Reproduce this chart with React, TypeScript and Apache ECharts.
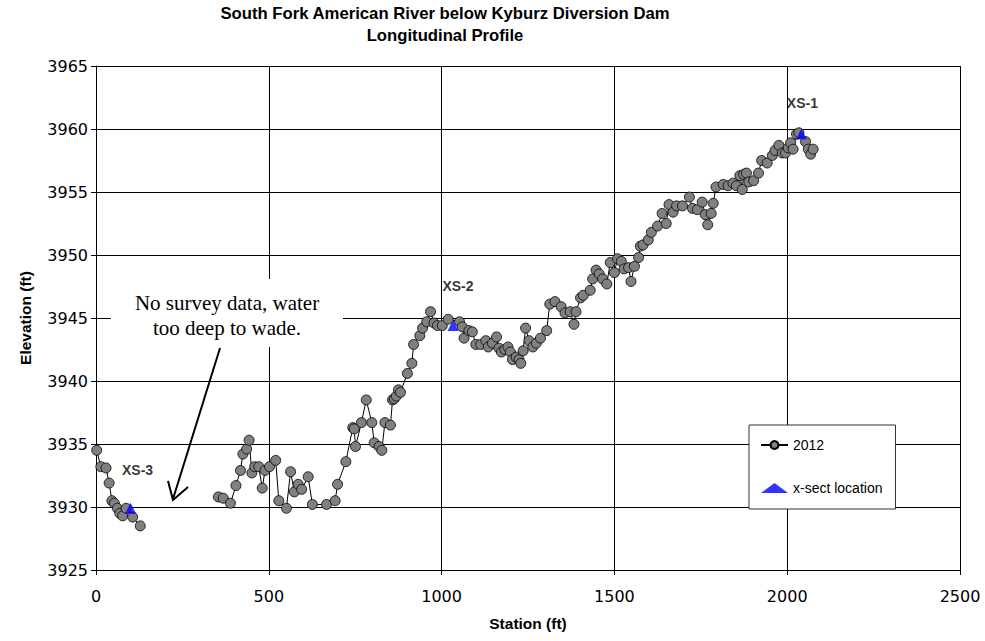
import React, { useEffect, useRef } from "react";
import * as echarts from "echarts";

// Thalweg survey, 2012: station along the channel (ft) and bed elevation (ft)
const stationFt = [
  2, 14, 29, 38, 46, 53, 62, 69, 77, 87, 106, 128,
  354, 368, 389, 405, 418, 425, 436, 443, 451, 459, 471, 481, 489, 502, 520, 529,
  551, 563, 574, 585, 595, 614, 626, 667, 692, 699, 723, 743, 747, 751, 768, 782,
  798, 805, 819, 827, 836, 852, 858, 863, 869, 875, 881, 901, 914, 919, 937, 945,
  957, 968, 978, 988, 1002, 1019, 1052, 1060, 1065, 1079, 1089, 1099, 1113, 1128,
  1135, 1147, 1159, 1166, 1173, 1183, 1192, 1199, 1205, 1216, 1224, 1229, 1236,
  1243, 1253, 1264, 1274, 1286, 1304, 1313, 1328, 1346, 1357, 1372, 1383, 1389,
  1402, 1410, 1430, 1437, 1447, 1456, 1466, 1478, 1488, 1500, 1509, 1520, 1528,
  1541, 1548, 1558, 1570, 1575, 1583, 1598, 1607, 1625, 1638, 1650, 1658, 1670,
  1680, 1697, 1717, 1726, 1740, 1754, 1763, 1770, 1780, 1786, 1794, 1815, 1829,
  1843, 1853, 1863, 1870, 1874, 1882, 1889, 1903, 1917, 1926, 1942, 1957, 1965,
  1976, 1986, 1995, 2003, 2010, 2017, 2027, 2034, 2053, 2061, 2068, 2075,
];

const elevationFt = [
  3934.5, 3933.2, 3933.1, 3931.9, 3930.5, 3930.3, 3929.9, 3929.5, 3929.3, 3929.9, 3929.2, 3928.5,
  3930.8, 3930.7, 3930.3, 3931.7, 3932.9, 3934.2, 3934.6, 3935.3, 3932.7, 3933.2, 3933.2, 3931.5,
  3932.9, 3933.2, 3933.7, 3930.5,
  3929.9, 3932.8, 3931.2, 3931.8, 3931.4, 3932.4, 3930.2, 3930.2, 3930.5, 3931.8, 3933.6, 3936.3,
  3936.2, 3934.8, 3936.7, 3938.5,
  3936.7, 3935.1, 3934.8, 3934.5, 3936.7, 3936.5, 3938.5, 3938.6, 3938.8, 3939.3, 3939.1, 3940.6,
  3941.4, 3942.9, 3943.6, 3944.2,
  3944.7, 3945.5, 3944.6, 3944.4, 3944.4, 3944.9, 3944.7, 3944.3, 3943.4, 3944.0, 3943.9, 3942.9,
  3942.9, 3943.2,
  3942.7, 3943.0, 3943.5, 3942.6, 3942.3, 3942.5, 3942.7, 3942.3, 3941.7, 3941.9, 3941.7, 3941.4,
  3942.4,
  3944.2, 3943.2, 3942.7, 3943.0, 3943.4, 3944.0, 3946.1, 3946.3, 3945.9, 3945.4, 3945.5, 3944.5,
  3945.5,
  3946.6, 3946.8, 3947.2, 3948.1, 3948.8, 3948.5, 3948.1, 3947.7, 3949.4, 3948.6, 3949.7, 3949.5,
  3948.9,
  3949.0, 3947.9, 3949.1, 3949.8, 3950.7, 3950.8, 3951.2, 3951.8, 3952.3, 3953.3, 3952.5, 3954.0,
  3953.4,
  3953.9, 3953.9, 3954.6, 3953.7, 3953.6, 3954.2, 3953.2, 3952.4, 3953.3, 3954.1, 3955.4, 3955.6,
  3955.5,
  3955.7, 3955.5, 3956.3, 3955.2, 3956.4, 3956.5, 3955.8, 3955.9, 3956.5, 3957.5, 3957.3, 3957.9,
  3958.3,
  3958.7, 3958.1, 3958.1, 3958.5, 3958.9, 3958.4, 3959.6, 3959.7, 3959.0, 3958.4, 3958.0, 3958.4,
];

// Cross-section locations
const xsNames = ["XS-3", "XS-2", "XS-1"];
const xsStationFt = [100, 1033, 2041];
const xsElevationFt = [3929.9, 3944.4, 3959.6];

const SANS = "'Liberation Sans', Arial, sans-serif";
const TICK_FONT = "'DejaVu Sans', Verdana, sans-serif";
const SERIF = "'Liberation Serif', 'Times New Roman', serif";

// Where stations are further apart than this, the reach was not surveyed
const SURVEY_GAP_FT = 150;

// Label nudges for the cross-section names
const xsLabelOffsets = [
  [7, -21],
  [5, -22],
  [1, -14],
];

export default function App() {
  const ref = useRef<HTMLDivElement>(null);

  useEffect(() => {
    if (!ref.current) return;
    const chart = echarts.init(ref.current, undefined, { renderer: "svg" });

    const profile: any[] = [];
    stationFt.forEach((s, i) => {
      if (i > 0 && s - stationFt[i - 1] > SURVEY_GAP_FT) profile.push(["-", "-"]);
      profile.push([s, elevationFt[i]]);
    });

    const xsData = xsNames.map((name, i) => ({
      name,
      value: [xsStationFt[i], xsElevationFt[i]],
      label: {
        show: true,
        position: "top",
        offset: xsLabelOffsets[i],
        formatter: "{b}",
        color: "#000",
        fontFamily: SANS,
        fontWeight: "bold",
        fontSize: 14,
      },
    }));

    const axisText = {
      color: "#000",
      fontFamily: TICK_FONT,
      fontSize: 16,
      formatter: (v: number) => String(v),
    };
    const axisName = {
      color: "#000",
      fontFamily: SANS,
      fontSize: 15.5,
      fontWeight: "bold" as const,
    };
    const gridLine = { show: true, lineStyle: { color: "#000", width: 1 } };

    chart.setOption({
      animation: false,
      backgroundColor: "#fff",
      title: {
        text: "South Fork American River below Kyburz Diversion Dam\nLongitudinal Profile",
        left: 445,
        top: 2,
        padding: 0,
        textAlign: "center",
        textStyle: {
          color: "#000",
          fontFamily: SANS,
          fontWeight: "bold",
          fontSize: 16.7,
          lineHeight: 22,
        },
      },
      grid: { left: 96, right: 25, top: 66, bottom: 71 },
      xAxis: {
        type: "value",
        min: 0,
        max: 2500,
        interval: 500,
        name: "Station (ft)",
        nameLocation: "middle",
        nameGap: 45,
        nameTextStyle: axisName,
        axisLine: { show: true, lineStyle: { color: "#000", width: 1 } },
        axisTick: { show: true, length: 5, lineStyle: { color: "#000" } },
        axisLabel: { ...axisText, margin: 18 },
        splitLine: gridLine,
      },
      yAxis: {
        type: "value",
        min: 3925,
        max: 3965,
        interval: 5,
        name: "Elevation (ft)",
        nameLocation: "middle",
        nameGap: 63,
        nameTextStyle: axisName,
        axisLine: { show: true, lineStyle: { color: "#000", width: 1 } },
        axisTick: { show: true, length: 5, lineStyle: { color: "#000" } },
        axisLabel: { ...axisText, margin: 8 },
        splitLine: gridLine,
      },
      legend: {
        orient: "vertical",
        left: 749,
        top: 425,
        padding: [13, 13, 14, 11],
        itemGap: 29,
        itemWidth: 27,
        itemHeight: 10,
        backgroundColor: "#fff",
        borderColor: "#333",
        borderWidth: 1,
        textStyle: { color: "#000", fontFamily: SANS, fontSize: 14 },
        data: ["2012", "x-sect location"],
      },
      series: [
        {
          name: "2012",
          type: "line",
          data: profile,
          connectNulls: false,
          symbol: "circle",
          symbolSize: 10,
          showAllSymbol: true,
          lineStyle: { color: "#000", width: 1 },
          itemStyle: { color: "#808080", borderColor: "#000", borderWidth: 0.8 },
          z: 3,
        },
        {
          name: "x-sect location",
          type: "scatter",
          data: xsData,
          symbol: "triangle",
          symbolSize: 11,
          itemStyle: { color: "#0000ff" },
          z: 4,
        },
      ],
      graphic: [
        {
          type: "rect",
          z: 50,
          shape: { x: 111, y: 279, width: 232, height: 68 },
          style: { fill: "#fff" },
        },
        {
          type: "text",
          z: 51,
          x: 227,
          y: 290,
          style: {
            text: "No survey data, water\ntoo deep to wade.",
            fill: "#000",
            font: `21px ${SERIF}`,
            lineHeight: 25,
            align: "center",
            verticalAlign: "top",
          },
        },
        {
          type: "line",
          z: 51,
          shape: { x1: 220, y1: 348, x2: 173, y2: 499 },
          style: { stroke: "#000", lineWidth: 2 },
        },
        {
          type: "polyline",
          z: 51,
          shape: { points: [[168, 481], [173, 500], [188, 487]] },
          style: { stroke: "#000", lineWidth: 2, fill: "none" },
        },
      ],
    });

    return () => chart.dispose();
  }, []);

  return (
    <div
      ref={ref}
      style={{ position: "absolute", left: 0, top: 0, width: 985, height: 641 }}
    />
  );
}
